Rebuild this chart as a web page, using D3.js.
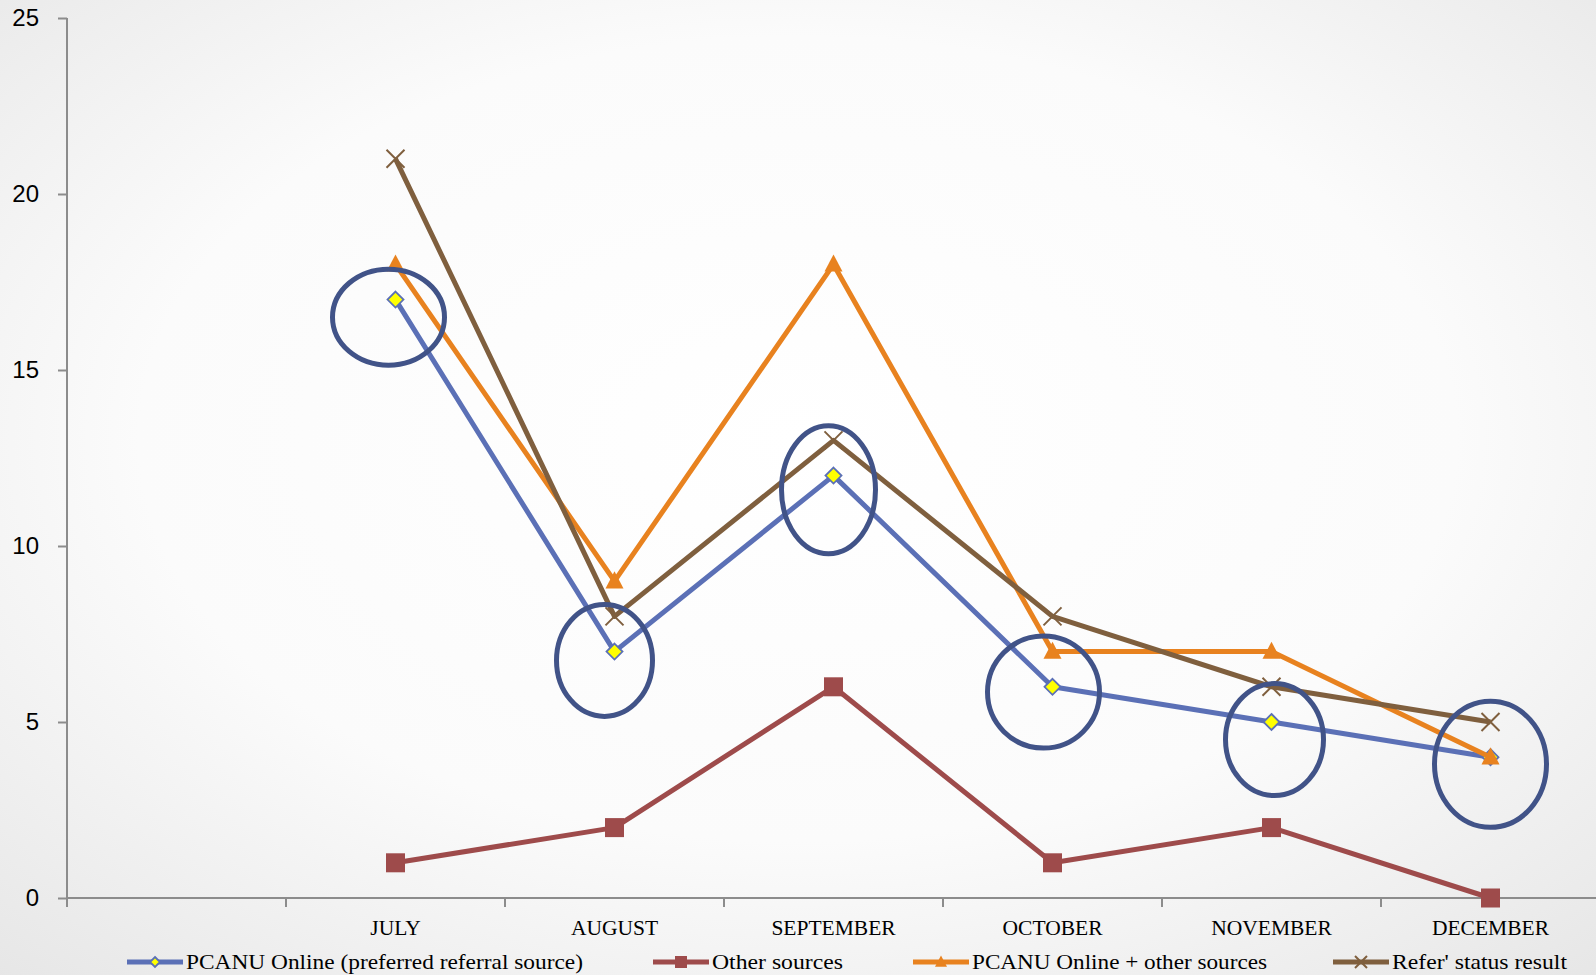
<!DOCTYPE html>
<html>
<head>
<meta charset="utf-8">
<script src="https://cdn.jsdelivr.net/npm/d3@7"></script>
<style>
  html, body { margin: 0; padding: 0; overflow: hidden; }
  svg { display: block; }
</style>
</head>
<body>
<script>
var w = 1596, h = 975;

// categories (first band is empty in the original chart)
var months = ["", "JULY", "AUGUST", "SEPTEMBER", "OCTOBER", "NOVEMBER", "DECEMBER"];
var seriesNames = ["PCANU Online (preferred referral source)", "Other sources", "PCANU Online + other sources", "Refer' status result"];
var pcanuOnline = [17, 7, 12, 6, 5, 4];
var otherSources = [1, 2, 6, 1, 2, 0];
var pcanuPlusOther = [18, 9, 18, 7, 7, 4];
var referStatus = [21, 8, 13, 8, 6, 5];
var yTicks = [0, 5, 10, 15, 20, 25];

// highlight ellipses drawn over the chart (month, centre value)
var circleMonths = ["JULY", "AUGUST", "SEPTEMBER", "OCTOBER", "NOVEMBER", "DECEMBER"];
var circleValues = [16.5, 6.75, 11.6, 5.85, 4.5, 3.8];

var svg = d3.select("body").append("svg").attr("width", w).attr("height", h);

var defs = svg.append("defs");
var grad = defs.append("radialGradient").attr("id", "bg")
  .attr("cx", "50%").attr("cy", "45%").attr("r", "75%");
grad.append("stop").attr("offset", "0%").attr("stop-color", "#ffffff");
grad.append("stop").attr("offset", "55%").attr("stop-color", "#fbfbfb");
grad.append("stop").attr("offset", "100%").attr("stop-color", "#e6e6e6");
svg.append("rect").attr("width", w).attr("height", h).attr("fill", "url(#bg)");

var x = d3.scaleBand().domain(months).range([67, 67 + 219 * 7]).padding(0);
var y = d3.scaleLinear().domain([0, 25]).range([898, 18]);
var cx = function(m) { return x(m) + x.bandwidth() / 2; };

// axes
var axisColor = "#8c8c8c";
var yAxis = svg.append("g").attr("transform", "translate(67,0)")
  .call(d3.axisLeft(y).tickValues(yTicks).tickSize(9).tickPadding(19));
yAxis.select(".domain").attr("stroke", axisColor).attr("stroke-width", 2).attr("d", "M0,18V898");
yAxis.selectAll(".tick line").attr("stroke", axisColor).attr("stroke-width", 2);
yAxis.selectAll(".tick text")
  .attr("font-family", "'Liberation Sans', Arial, sans-serif")
  .attr("font-size", "24px").attr("fill", "#000");

var xAxis = svg.append("g").attr("transform", "translate(0,898)");
xAxis.append("line").attr("x1", 67).attr("x2", w).attr("y1", 0).attr("y2", 0)
  .attr("stroke", axisColor).attr("stroke-width", 2);
xAxis.selectAll(".xt").data(months.slice(1)).enter().append("line")
  .attr("x1", function(d) { return x(d); }).attr("x2", function(d) { return x(d); })
  .attr("y1", 0).attr("y2", 9).attr("stroke", axisColor).attr("stroke-width", 2);
xAxis.append("line").attr("x1", 67).attr("x2", 67).attr("y1", 0).attr("y2", 9)
  .attr("stroke", axisColor).attr("stroke-width", 2);
xAxis.selectAll(".xl").data(months.slice(1)).enter().append("text")
  .attr("x", function(d) { return cx(d); }).attr("y", 37)
  .attr("text-anchor", "middle")
  .attr("font-family", "'Liberation Serif', 'DejaVu Serif', serif")
  .attr("font-size", "21.5px").attr("fill", "#000")
  .text(function(d) { return d; });

// series
var cats = months.slice(1);
var series = [
  { name: seriesNames[0], values: pcanuOnline, color: "#5b70b6", marker: "diamond" },
  { name: seriesNames[1], values: otherSources, color: "#9e4b4b", marker: "square" },
  { name: seriesNames[2], values: pcanuPlusOther, color: "#e8821f", marker: "triangle" },
  { name: seriesNames[3], values: referStatus, color: "#7f5f3e", marker: "x" }
];

function drawMarker(g, type, color, sz) {
  if (type === "diamond") {
    g.append("path").attr("d", "M0,-" + sz + "L" + sz + ",0L0," + sz + "L-" + sz + ",0Z")
      .attr("fill", "#ffff00").attr("stroke", color).attr("stroke-width", 1.8);
  } else if (type === "square") {
    g.append("rect").attr("x", -sz).attr("y", -sz).attr("width", sz * 2).attr("height", sz * 2)
      .attr("fill", color);
  } else if (type === "triangle") {
    g.append("path").attr("d", "M0,-" + sz * 1.1 + "L" + sz + "," + sz * 0.8 + "L-" + sz + "," + sz * 0.8 + "Z")
      .attr("fill", color);
  } else {
    g.append("path").attr("d", "M-" + sz + ",-" + sz + "L" + sz + "," + sz + "M" + sz + ",-" + sz + "L-" + sz + "," + sz)
      .attr("stroke", color).attr("stroke-width", 2).attr("fill", "none");
  }
}

var markerSize = { diamond: 8, square: 9.5, triangle: 9, x: 9 };

var line = d3.line()
  .x(function(d, i) { return cx(cats[i]); })
  .y(function(d) { return y(d); });

series.forEach(function(s) {
  svg.append("path").datum(s.values).attr("d", line)
    .attr("fill", "none").attr("stroke", s.color).attr("stroke-width", 5)
    .attr("stroke-linejoin", "round");
  s.values.forEach(function(v, i) {
    var g = svg.append("g").attr("transform", "translate(" + cx(cats[i]) + "," + y(v) + ")");
    drawMarker(g, s.marker, s.color, markerSize[s.marker]);
  });
});

// highlight ellipses
var ellipseDx = [-7, -10, -5, -9, 3, 0];
var ellipseRx = [56, 48, 47, 56, 49, 56];
var ellipseRy = [48, 56, 64, 56, 56, 63];
svg.selectAll(".hl").data(circleMonths).enter().append("ellipse")
  .attr("cx", function(d, i) { return cx(d) + ellipseDx[i]; })
  .attr("cy", function(d, i) { return y(circleValues[i]); })
  .attr("rx", function(d, i) { return ellipseRx[i]; })
  .attr("ry", function(d, i) { return ellipseRy[i]; })
  .attr("fill", "none").attr("stroke", "#415388").attr("stroke-width", 5);

// legend
var legendX = [127, 653, 913, 1333];
var legendW = [397, 131, 295, 175];
var legendY = 962;
series.forEach(function(s, i) {
  var lg = svg.append("g").attr("transform", "translate(" + legendX[i] + "," + legendY + ")");
  lg.append("line").attr("x1", 0).attr("x2", 56).attr("y1", 0).attr("y2", 0)
    .attr("stroke", s.color).attr("stroke-width", 5);
  var mg = lg.append("g").attr("transform", "translate(28,0)");
  drawMarker(mg, s.marker, s.color, s.marker === "diamond" ? 5 : 6);
  lg.append("text").attr("x", 59).attr("y", 7)
    .attr("font-family", "'Liberation Serif', 'DejaVu Serif', serif")
    .attr("font-size", "22px").attr("fill", "#000")
    .attr("textLength", legendW[i]).attr("lengthAdjust", "spacingAndGlyphs")
    .text(s.name);
});
</script>
</body>
</html>
